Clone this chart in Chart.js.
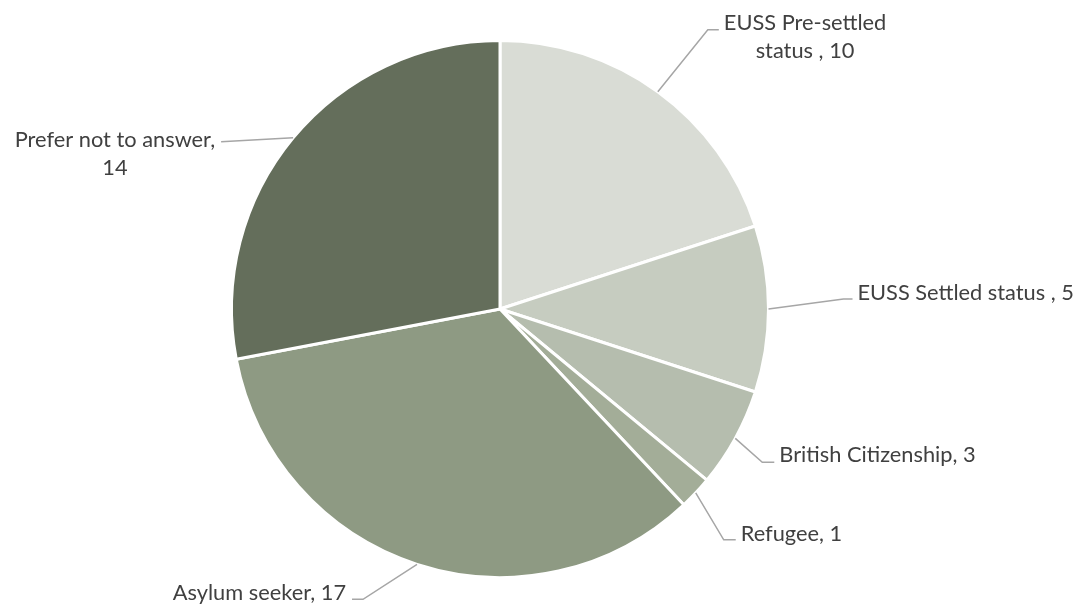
<!DOCTYPE html>
<html>
<head>
<meta charset="utf-8">
<title>Immigration status</title>
<script src="https://cdn.jsdelivr.net/npm/chart.js@4"></script>
<style>
  body { margin: 0; background: #fff; }
</style>
</head>
<body>
<canvas id="mycanvas" width="1086" height="607"></canvas>
<script>
var categories = ['EUSS Pre-settled status ', 'EUSS Settled status ', 'British Citizenship', 'Refugee', 'Asylum seeker', 'Prefer not to answer'];
var counts = [10, 5, 3, 1, 17, 14];
var sliceColours = ['#d9dcd5', '#c6ccc0', '#b5bdae', '#a3ad98', '#8e9a83', '#646e5b'];

// where each label sits: elbow offset from the slice edge, short flat bit, wrap width
var labelLayout = [
  { dx: 50, dy: -62, flat: 11, side: 1, wrap: 180, textDy: -7 },
  { dx: 75, dy: -10, flat: 9, side: 1, wrap: 400, textDy: -6 },
  { dx: 27, dy: 24, flat: 12, side: 1, wrap: 400, textDy: -7 },
  { dx: 28, dy: 47, flat: 12, side: 1, wrap: 400, textDy: -6 },
  { dx: -54, dy: 35, flat: -11, side: -1, wrap: 400, textDy: -6 },
  { dx: -72, dy: 4, flat: 0, side: -1, wrap: 220, textDy: -2 }
];

var labelFont = '21.8px Lato';
var lineHeight = 28;

function wrapText(ctx, text, maxW) {
  var words = text.split(' ');
  var lines = [];
  var cur = '';
  for (var i = 0; i < words.length; i++) {
    var test = cur ? cur + ' ' + words[i] : words[i];
    if (cur && ctx.measureText(test).width > maxW) {
      lines.push(cur);
      cur = words[i];
    } else {
      cur = test;
    }
  }
  if (cur) lines.push(cur);
  return lines;
}

var leaderLabels = {
  id: 'leaderLabels',
  afterDraw: function(chart) {
    var ctx = chart.ctx;
    var meta = chart.getDatasetMeta(0);
    ctx.save();
    ctx.font = labelFont;
    ctx.textBaseline = 'middle';
    ctx.textAlign = 'center';
    for (var i = 0; i < meta.data.length; i++) {
      var arc = meta.data[i].getProps(['x', 'y', 'startAngle', 'endAngle', 'outerRadius'], true);
      var lay = labelLayout[i];
      var mid = (arc.startAngle + arc.endAngle) / 2;
      var sx = arc.x + Math.cos(mid) * arc.outerRadius;
      var sy = arc.y + Math.sin(mid) * arc.outerRadius;
      var ex = sx + lay.dx;
      var ey = sy + lay.dy;

      ctx.strokeStyle = '#a6a6a6';
      ctx.lineWidth = 1.5;
      ctx.beginPath();
      ctx.moveTo(sx, sy);
      ctx.lineTo(ex, ey);
      ctx.lineTo(ex + lay.flat, ey);
      ctx.stroke();

      var text = categories[i] + ', ' + counts[i];
      var lines = wrapText(ctx, text, lay.wrap);
      var w = 0;
      lines.forEach(function(l) { w = Math.max(w, ctx.measureText(l).width); });
      var left = lay.side > 0 ? ex + lay.flat + 5 : ex + lay.flat - 6 - w;
      ctx.fillStyle = '#404040';
      for (var j = 0; j < lines.length; j++) {
        ctx.fillText(lines[j], left + w / 2, ey + lay.textDy + j * lineHeight);
      }
    }
    ctx.restore();
  }
};

var ctx = document.getElementById('mycanvas');

var pieChart = new Chart(ctx, {
  type: 'pie',
  data: {
    labels: categories,
    datasets: [{
      data: counts,
      backgroundColor: sliceColours,
      borderColor: '#ffffff',
      borderWidth: 3
    }]
  },
  options: {
    responsive: false,
    animation: false,
    layout: { padding: { top: 39, bottom: 28, left: 0, right: 86 } },
    plugins: {
      legend: { display: false },
      tooltip: { enabled: false }
    }
  },
  plugins: [leaderLabels]
});
</script>
</body>
</html>
